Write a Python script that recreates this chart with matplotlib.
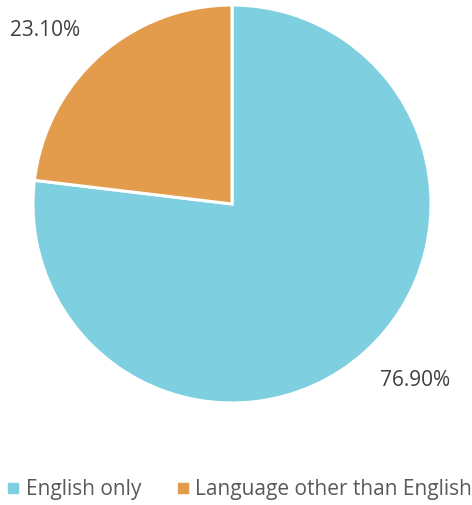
import matplotlib
matplotlib.use("Agg")
import matplotlib.pyplot as plt
from matplotlib.lines import Line2D

categories = ["English only", "Language other than English"]
shares = [76.9, 23.1]
pct_labels = ["76.90%", "23.10%"]
colors = ["#7ECFDF", "#E39B4C"]

plt.rcParams["font.family"] = ["Open Sans", "DejaVu Sans"]

fig = plt.figure(figsize=(4.72, 5.05), dpi=100)
# pie area: centre ~(232,204) px, radius ~199 px
ax = fig.add_axes([33 / 472, (505 - 403) / 505, 398 / 472, 398 / 505])
wedges, _ = ax.pie(shares, colors=colors, startangle=90, counterclock=False,
                   wedgeprops=dict(edgecolor="white", linewidth=2.2))
ax.set_xlim(-1, 1)
ax.set_ylim(-1, 1)
ax.set_aspect("equal")
ax.axis("off")

# data labels (Excel-style "best fit" positions)
label_pos = [(0.92, -0.885), (-0.94, 0.87)]
for (x, y), txt in zip(label_pos, pct_labels):
    ax.text(x, y, txt, ha="center", va="center", fontsize=15,
            color="#404040", clip_on=False)

handles = [Line2D([], [], marker="s", linestyle="none", markersize=7,
                  markerfacecolor=c, markeredgecolor=c) for c in colors]
fig.legend(handles, categories, loc="center", bbox_to_anchor=(0.505, 1 - 490 / 505),
           ncol=2, frameon=False, fontsize=15, labelcolor="#595959",
           handletextpad=0.2, columnspacing=1.6, handlelength=0.8,
           borderpad=0, borderaxespad=0)

fig.savefig("out.png", dpi=100, facecolor="white")
